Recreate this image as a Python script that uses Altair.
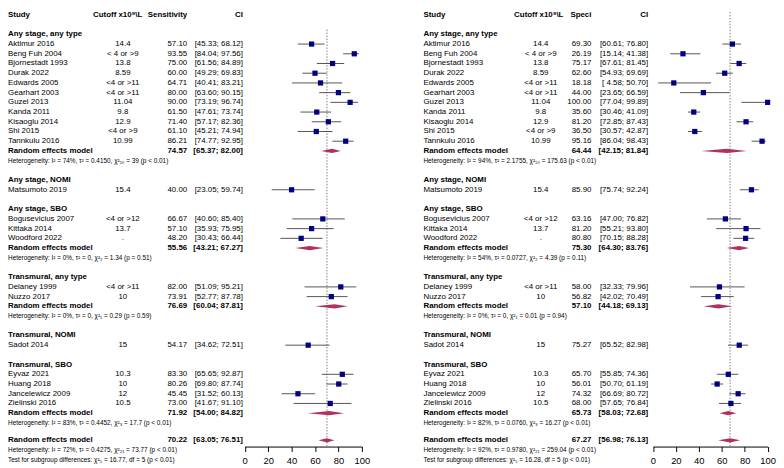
import altair as alt
import pandas as pd

FONT = "Liberation Sans"
NAVY = "#000080"
MAROON = "#B03060"

group_titles = ["Any stage, any type", "Any stage, NOMI", "Any stage, SBO",
                "Transmural, any type", "Transmural, NOMI", "Transmural, SBO"]
study_names = [
    ["Aktimur 2016", "Beng Fuh 2004", "Bjornestadt 1993", "Durak 2022", "Edwards 2005",
     "Gearhart 2003", "Guzel 2013", "Kanda 2011", "Kisaoglu 2014", "Shi 2015", "Tannkulu 2016"],
    ["Matsumoto 2019"],
    ["Bogusevicius 2007", "Kittaka 2014", "Woodford 2022"],
    ["Delaney 1999", "Nuzzo 2017"],
    ["Sadot 2014"],
    ["Eyvaz 2021", "Huang 2018", "Jancelewicz 2009", "Zielinski 2016"],
]
cutoffs = [
    ["14.4", "< 4 or >9", "13.8", "8.59", "<4 or >11", "<4 or >11", "11.04", "9.8", "12.9", "<4 or >9", "10.99"],
    ["15.4"],
    ["<4 or >12", "13.7", "."],
    ["<4 or >11", "10"],
    ["15"],
    ["10.3", "10", "12", "10.5"],
]

# Sensitivity
sens = [[57.10, 93.55, 75.00, 60.00, 64.71, 80.00, 90.00, 61.50, 71.40, 61.10, 86.21],
        [40.00], [66.67, 57.10, 48.20], [82.00, 73.91], [54.17], [83.30, 80.26, 45.45, 73.00]]
sens_lo = [[45.33, 84.04, 61.56, 49.29, 40.41, 63.60, 73.19, 47.61, 57.17, 45.21, 74.77],
           [23.05], [40.60, 35.93, 30.43], [51.09, 52.77], [34.62], [65.65, 69.80, 31.52, 41.67]]
sens_hi = [[68.12, 97.56, 84.89, 69.83, 83.21, 90.15, 96.74, 73.74, 82.36, 74.94, 92.95],
           [59.74], [85.40, 75.95, 66.44], [95.21, 87.78], [72.51], [92.87, 87.74, 60.13, 91.10]]
sens_re = [74.57, None, 55.56, 76.69, None, 71.92]
sens_re_lo = [65.37, None, 43.21, 60.04, None, 54.00]
sens_re_hi = [82.00, None, 67.27, 87.81, None, 84.82]
sens_het = ["Heterogeneity: I² = 74%, τ² = 0.4150, χ²₁₀ = 39 (p < 0.01)", None,
            "Heterogeneity: I² = 0%, τ² = 0, χ²₂ = 1.34 (p = 0.51)",
            "Heterogeneity: I² = 0%, τ² = 0, χ²₁ = 0.29 (p = 0.59)", None,
            "Heterogeneity: I² = 83%, τ² = 0.4452, χ²₃ = 17.7 (p < 0.01)"]
sens_overall = [70.22, 63.05, 76.51]
sens_overall_het = "Heterogeneity: I² = 72%, τ² = 0.4275, χ²₂₁ = 73.77 (p < 0.01)"
sens_test = "Test for subgroup differences: χ²₅ = 16.77, df = 5 (p < 0.01)"

# Specificity
spec = [[69.30, 26.19, 75.17, 62.60, 18.18, 44.00, 100.00, 35.60, 81.20, 36.50, 95.16],
        [85.90], [63.16, 81.20, 80.80], [58.00, 56.82], [75.27], [65.70, 56.01, 74.32, 68.00]]
spec_lo = [[60.61, 15.14, 67.61, 54.93, 4.58, 23.65, 77.04, 30.46, 72.85, 30.57, 86.04],
           [75.74], [47.00, 55.21, 70.15], [32.33, 42.02], [65.52], [55.85, 50.70, 66.69, 57.65]]
spec_hi = [[76.80, 41.38, 81.45, 69.69, 50.70, 66.59, 99.89, 41.09, 87.43, 42.87, 98.43],
           [92.24], [76.82, 93.80, 88.28], [79.96, 70.49], [82.98], [74.36, 61.19, 80.72, 76.84]]
spec_re = [64.44, None, 75.30, 57.10, None, 65.73]
spec_re_lo = [42.15, None, 64.30, 44.18, None, 58.03]
spec_re_hi = [81.84, None, 83.76, 69.13, None, 72.68]
spec_het = ["Heterogeneity: I² = 94%, τ² = 2.1755, χ²₁₀ = 175.63 (p < 0.01)", None,
            "Heterogeneity: I² = 54%, τ² = 0.0727, χ²₂ = 4.39 (p = 0.11)",
            "Heterogeneity: I² = 0%, τ² = 0, χ²₁ = 0.01 (p = 0.94)", None,
            "Heterogeneity: I² = 82%, τ² = 0.0760, χ²₃ = 16.27 (p < 0.01)"]
spec_overall = [67.27, 56.98, 76.13]
spec_overall_het = "Heterogeneity: I² = 92%, τ² = 0.9780, χ²₂₁ = 259.04 (p < 0.01)"
spec_test = "Test for subgroup differences: χ²₅ = 16.28, df = 5 (p < 0.01)"

axis_ticks = [0, 20, 40, 60, 80, 100]

# ---- layout (pixels) ----
H = 440
K = 0.988
ROW0, ROWSTEP = 4.86, 9.946

r_top = (0 / K + 1.5 - ROW0) / ROWSTEP
r_bot = (H / K + 1.5 - ROW0) / ROWSTEP
yscale = alt.Scale(domain=[r_top, r_bot], range=[0, H], nice=False, zero=False)


def fmt_ci(lo, hi):
    return f"[{lo:5.2f}; {hi:5.2f}]"


def panel(est, lo, hi, re, re_lo, re_hi, het, overall, overall_het, test,
          header_est, pos, width):
    text_rows, st_rows, dia_rows = [], [], []
    text_rows.append(dict(row=0, kind="header", label="Study", cut="Cutoff x10⁹\\L",
                          est=header_est, ci="CI"))
    r = 2
    for g in range(len(group_titles)):
        text_rows.append(dict(row=r, kind="group", label=group_titles[g], cut="", est="", ci=""))
        r += 1
        for j, name in enumerate(study_names[g]):
            text_rows.append(dict(row=r, kind="study", label=name, cut=cutoffs[g][j],
                                  est=f"{est[g][j]:.2f}", ci=fmt_ci(lo[g][j], hi[g][j])))
            st_rows.append(dict(row=r, est=est[g][j], lo=lo[g][j], hi=hi[g][j]))
            r += 1
        if re[g] is not None:
            text_rows.append(dict(row=r, kind="re", label="Random effects model", cut="",
                                  est=f"{re[g]:.2f}", ci=fmt_ci(re_lo[g], re_hi[g])))
            dia_rows.append((g, r, re[g], re_lo[g], re_hi[g]))
            r += 1
            text_rows.append(dict(row=r, kind="het", label=het[g], cut="", est="", ci=""))
            r += 1
        r += 1
    ro = r - 0.2
    text_rows.append(dict(row=ro, kind="re", label="Random effects model", cut="",
                          est=f"{overall[0]:.2f}", ci=fmt_ci(overall[1], overall[2])))
    dia_rows.append((99, ro, overall[0], overall[1], overall[2]))
    text_rows.append(dict(row=ro + 1, kind="het", label=overall_het, cut="", est="", ci=""))
    text_rows.append(dict(row=ro + 2, kind="het", label=test, cut="", est="", ci=""))

    tdf = pd.DataFrame(text_rows)
    sdf = pd.DataFrame(st_rows)
    hh = 0.22
    drows = []
    for (gid, rr, e, l, h) in dia_rows:
        drows.append(dict(id=gid, x=l, y=rr, y2=rr))
        drows.append(dict(id=gid, x=e, y=rr - hh, y2=rr + hh))
        drows.append(dict(id=gid, x=h, y=rr, y2=rr))
    ddf = pd.DataFrame(drows)

    xscale = alt.Scale(domain=[0, 100], range=[pos["x0"], pos["x100"]], nice=False, zero=False)
    ax = alt.Axis(values=axis_ticks, title=None, grid=False, tickSize=5, labelFont=FONT,
                  labelFontSize=9.5, labelColor="black", domainColor="black", tickColor="black",
                  labelPadding=4, domainWidth=1, tickWidth=1, labelFlush=False,
                  labelOverlap=False, format="d")
    Y = alt.Y("row:Q", scale=yscale, axis=None)

    def txt(df, field, x, align, size=8, weight="normal"):
        return alt.Chart(df).mark_text(align=align, baseline="middle", font=FONT,
                                       fontSize=size, fontWeight=weight, color="black").encode(
            x=alt.value(x), y=Y, text=alt.Text(f"{field}:N"))

    normal = tdf[tdf.kind == "study"]
    bold = tdf[tdf.kind.isin(["header", "group", "re"])]
    hets = tdf[tdf.kind == "het"]
    head = tdf[tdf.kind == "header"]
    boldnum = tdf[tdf.kind == "re"]

    layers = [
        alt.Chart(pd.DataFrame({"est": [overall[0]], "top": [pos["rule_top"]]})).mark_rule(
            color="#808080", strokeDash=[1.5, 1.5], strokeWidth=1).encode(
            x=alt.X("est:Q", scale=xscale, axis=ax),
            y=alt.Y("top:Q", scale=yscale, axis=None), y2=alt.value(H)),
        alt.Chart(sdf).mark_rule(color="#555555", strokeWidth=1).encode(
            x=alt.X("lo:Q", scale=xscale, axis=ax), x2="hi:Q", y=Y),
        alt.Chart(sdf).mark_square(size=28, color=NAVY, opacity=1).encode(
            x=alt.X("est:Q", scale=xscale, axis=ax), y=Y),
        alt.Chart(ddf).mark_area(color=MAROON, opacity=1).encode(
            x=alt.X("x:Q", scale=xscale, axis=ax),
            y=alt.Y("y:Q", scale=yscale, axis=None), y2="y2:Q", detail="id:N"),
        txt(normal, "label", pos["study"], "left"),
        txt(bold, "label", pos["study"], "left", weight="bold"),
        txt(hets, "label", pos["study"], "left", size=6.5),
        txt(normal, "cut", pos["cut"], "center"),
        txt(head, "cut", pos["cut_head"], "center", weight="bold"),
        txt(normal, "est", pos["est"], "right"),
        txt(normal, "ci", pos["ci"], "right"),
        txt(boldnum, "est", pos["est"], "right", weight="bold"),
        txt(boldnum, "ci", pos["ci"], "right", weight="bold"),
        txt(head, "est", pos["est"], "right", weight="bold"),
        txt(head, "ci", pos["ci"], "right", weight="bold"),
    ]
    return alt.layer(*layers).properties(width=width, height=H)


left_pos = dict(study=0, cut=116.2, cut_head=111, est=181.3, ci=237.7,
                x0=239.5, x100=358, rule_top=1.52)
right_pos = dict(study=28.3, cut=147, cut_head=145, est=198.3, ci=255.7,
                 x0=260.5, x100=376.5, rule_top=-0.3)

left = panel(sens, sens_lo, sens_hi, sens_re, sens_re_lo, sens_re_hi, sens_het,
             sens_overall, sens_overall_het, sens_test, "Sensitivity", left_pos, 392)
right = panel(spec, spec_lo, spec_hi, spec_re, spec_re_lo, spec_re_hi, spec_het,
              spec_overall, spec_overall_het, spec_test, "Speci", right_pos, 384)

chart = alt.hconcat(left, right, spacing=0).properties(padding=0).configure_view(stroke=None)

chart.save("out.html", embed_options={"renderer": "svg", "actions": False})
